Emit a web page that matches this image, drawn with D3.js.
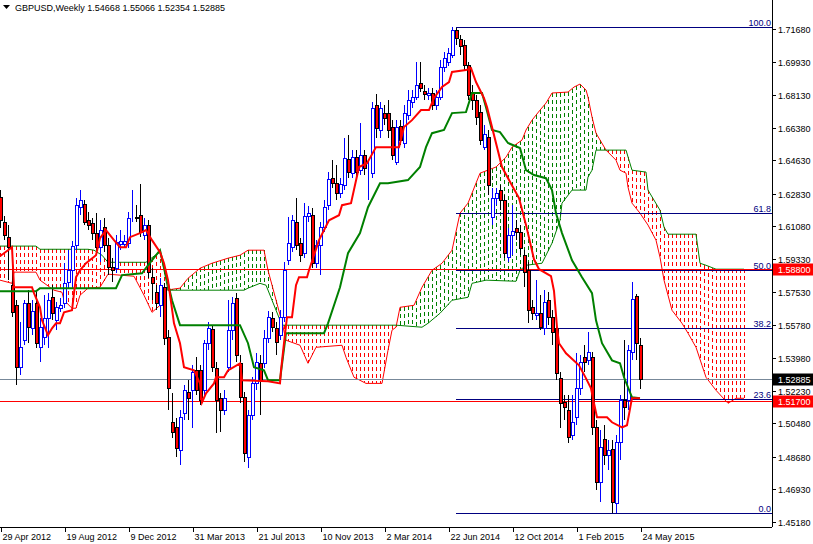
<!DOCTYPE html>
<html>
<head>
<meta charset="utf-8">
<script src="https://cdn.jsdelivr.net/npm/d3@7"></script>
<style>
  body { margin: 0; background: #fff; }
  text { font-family: "Liberation Sans", Arial, sans-serif; }
</style>
</head>
<body>
<svg id="chart" width="813" height="544"></svg>
<script>
// weekly candles, week 0 = 29 Apr 2012
const opens = [1.6264,1.6130,1.6049,1.5791,1.5683,1.5350,1.5495,1.5694,1.5559,1.5694,1.5457,1.5511,1.5613,1.5726,1.5602,1.5667,1.5694,1.5807,1.5871,1.6006,
  1.6210,1.6226,1.6140,1.6124,1.6071,1.5995,1.6103,1.6006,1.5888,1.5882,1.6011,1.6011,1.6017,1.6157,1.6157,1.6167,1.6060,1.6114,1.5834,1.5753,
  1.5683,1.5780,1.5511,1.5054,1.5027,1.4903,1.5102,1.5215,1.5226,1.5333,1.5333,1.5226,1.5479,1.5554,1.5344,1.5183,1.5118,1.5350,1.5549,1.5721,
  1.5371,1.5188,1.4865,1.5091,1.5263,1.5371,1.5371,1.5506,1.5613,1.5559,1.5522,1.5619,1.5925,1.5995,1.6130,1.6017,1.5963,1.6162,1.6167,1.5909,
  1.6006,1.6103,1.6221,1.6366,1.6339,1.6286,1.6329,1.6469,1.6393,1.6479,1.6409,1.6490,1.6409,1.6393,1.6759,1.6625,1.6716,1.6716,1.6641,1.6452,
  1.6646,1.6555,1.6705,1.6775,1.6802,1.6878,1.6834,1.6813,1.6824,1.6759,1.6802,1.6964,1.6990,1.7028,1.7163,1.7114,1.7082,1.6974,1.6829,1.6786,
  1.6722,1.6533,1.6587,1.6157,1.6259,1.6302,1.6248,1.5941,1.6060,1.6097,1.6076,1.5952,1.5871,1.5672,1.5629,1.5640,1.5559,1.5710,1.5619,1.5559,
  1.5290,1.5161,1.5118,1.4984,1.5081,1.5237,1.5403,1.5387,1.5403,1.5027,1.4731,1.4962,1.4876,1.4908,1.4618,1.4946,1.5172,1.5172,1.5430,1.5732,1.54668];
const closes = [1.6140,1.6060,1.5995,1.5645,1.5350,1.5457,1.5694,1.5565,1.5651,1.5479,1.5565,1.5613,1.5710,1.5640,1.5672,1.5683,1.5801,1.5871,1.6001,1.6221,
  1.6248,1.6130,1.6114,1.6071,1.5995,1.6087,1.6006,1.5888,1.5871,1.6022,1.6028,1.6028,1.6151,1.6157,1.6151,1.6076,1.6114,1.5861,1.5802,1.5694,
  1.5791,1.5506,1.5237,1.5000,1.4914,1.5081,1.5226,1.5183,1.5323,1.5226,1.5172,1.5479,1.5559,1.5350,1.5172,1.5118,1.5183,1.5549,1.5694,1.5414,
  1.5188,1.4887,1.5091,1.5263,1.5376,1.5280,1.5506,1.5619,1.5565,1.5484,1.5619,1.5871,1.6017,1.6140,1.6006,1.5952,1.6162,1.6178,1.5909,1.6006,
  1.6103,1.6210,1.6361,1.6339,1.6286,1.6334,1.6474,1.6399,1.6479,1.6399,1.6490,1.6420,1.6409,1.6743,1.6635,1.6743,1.6689,1.6625,1.6490,1.6641,
  1.6571,1.6716,1.6786,1.6802,1.6867,1.6851,1.6818,1.6824,1.6759,1.6802,1.6964,1.7012,1.7039,1.7163,1.7120,1.7077,1.6974,1.6813,1.6786,1.6695,
  1.6571,1.6603,1.6329,1.6259,1.6286,1.6248,1.5963,1.6060,1.6081,1.6076,1.5990,1.5861,1.5656,1.5640,1.5640,1.5565,1.5699,1.5619,1.5538,1.5317,
  1.5156,1.5134,1.4973,1.5054,1.5237,1.5376,1.5376,1.5430,1.5027,1.4731,1.4919,1.4876,1.4903,1.4623,1.4946,1.5172,1.5134,1.5441,1.5716,1.5479,1.52885];
const highs = [1.6302,1.6162,1.6114,1.5914,1.5710,1.5592,1.5710,1.5764,1.5710,1.5764,1.5613,1.5737,1.5748,1.5791,1.5699,1.5721,1.5909,1.5979,1.6028,1.6259,
  1.6302,1.6248,1.6183,1.6151,1.6178,1.6140,1.6151,1.6044,1.5936,1.6060,1.6087,1.6060,1.6183,1.6302,1.6221,1.6334,1.6151,1.6140,1.5882,1.5791,
  1.5828,1.5801,1.5549,1.5210,1.5075,1.5118,1.5253,1.5280,1.5360,1.5403,1.5360,1.5495,1.5592,1.5576,1.5376,1.5210,1.5226,1.5710,1.5726,1.5748,
  1.5414,1.5215,1.5118,1.5296,1.5425,1.5414,1.5549,1.5651,1.5645,1.5592,1.5656,1.5914,1.6157,1.6167,1.6259,1.6044,1.6232,1.6216,1.6205,1.6033,
  1.6130,1.6248,1.6399,1.6463,1.6436,1.6366,1.6582,1.6598,1.6517,1.6517,1.6662,1.6517,1.6463,1.6775,1.6818,1.6775,1.6759,1.6786,1.6678,1.6678,
  1.6678,1.6759,1.6840,1.6840,1.6990,1.6990,1.6867,1.6851,1.6851,1.6840,1.7001,1.7044,1.7066,1.7179,1.7173,1.7136,1.7109,1.6990,1.6867,1.6813,
  1.6759,1.6652,1.6625,1.6313,1.6313,1.6329,1.6275,1.6097,1.6221,1.6140,1.6114,1.5979,1.5914,1.5710,1.5818,1.5737,1.5764,1.5753,1.5656,1.5592,
  1.5323,1.5199,1.5199,1.5199,1.5425,1.5414,1.5468,1.5538,1.5430,1.5064,1.5011,1.5038,1.4957,1.4957,1.4984,1.5199,1.5495,1.5468,1.5807,1.5742,1.55066];
const lows = [1.6097,1.6033,1.5818,1.5619,1.5253,1.5307,1.5468,1.5479,1.5522,1.5452,1.5376,1.5468,1.5452,1.5602,1.5549,1.5645,1.5667,1.5775,1.5780,1.5979,
  1.6167,1.6114,1.6087,1.6033,1.5968,1.5914,1.5968,1.5845,1.5807,1.5855,1.5979,1.5995,1.5990,1.6130,1.6130,1.6049,1.6033,1.5828,1.5710,1.5656,
  1.5619,1.5468,1.5118,1.4968,1.4865,1.4822,1.5064,1.5064,1.5021,1.5199,1.5145,1.5199,1.5441,1.5323,1.4994,1.5000,1.5091,1.5323,1.5495,1.5376,
  1.5156,1.4838,1.4806,1.5064,1.5226,1.5091,1.5344,1.5479,1.5538,1.5414,1.5495,1.5592,1.5898,1.5968,1.5979,1.5914,1.5936,1.6130,1.5882,1.5882,
  1.5845,1.6076,1.6194,1.6313,1.6248,1.6259,1.6302,1.6366,1.6366,1.6366,1.6383,1.6383,1.6248,1.6366,1.6582,1.6582,1.6652,1.6582,1.6463,1.6436,
  1.6544,1.6528,1.6678,1.6743,1.6786,1.6829,1.6786,1.6786,1.6732,1.6732,1.6786,1.6937,1.6969,1.7012,1.7082,1.7028,1.6947,1.6786,1.6732,1.6652,
  1.6544,1.6517,1.6275,1.6114,1.6221,1.6194,1.5936,1.5914,1.5952,1.6033,1.5952,1.5780,1.5586,1.5602,1.5602,1.5549,1.5522,1.5576,1.5468,1.5280,
  1.5021,1.5064,1.4941,1.4957,1.5038,1.5199,1.5323,1.5360,1.4984,1.4688,1.4623,1.4822,1.4795,1.4569,1.4564,1.4849,1.5064,1.5118,1.5387,1.5387,1.52354];

// ichimoku lines as [week, price] vertices
const tenkan = [[0,1.5947],[2,1.5979],[3,1.5995],[3.5,1.5780],[8,1.5780],[8.5,1.5748],[10,1.5672],[10.5,1.5602],[12,1.5522],[13,1.5559],[14,1.5586],[15,1.5586],
  [16,1.5645],[18,1.5656],[18.5,1.5748],[19,1.5834],[20,1.5871],[21.5,1.5909],[24,1.5952],[25,1.6044],[26.5,1.6087],[28.5,1.6033],[30,1.5995],[31.5,1.5995],
  [32.5,1.6049],[35,1.6071],[36.5,1.6087],[38,1.6033],[40,1.5968],[41,1.5909],[42,1.5818],[43.5,1.5586],[45,1.5479],[46,1.5350],[48.5,1.5333],[50,1.5263],
  [50.5,1.5161],[51.5,1.5210],[53.5,1.5263],[54,1.5296],[56,1.5296],[57,1.5333],[60,1.5371],[60.5,1.5280],[67,1.5274],[70,1.5263],[70.25,1.5333],[71,1.5479],
  [71.75,1.5619],[73,1.5619],[74,1.5791],[74.75,1.5834],[76.75,1.5834],[77.25,1.5871],[79.75,1.6033],[82.25,1.6140],[84.75,1.6167],[85.5,1.6221],[87.75,1.6232],
  [89.75,1.6426],[91.75,1.6447],[94,1.6533],[99.75,1.6533],[101,1.6641],[103,1.6678],[105.25,1.6732],[107.25,1.6732],[108.5,1.6797],[110.5,1.6856],[112.25,1.6883],
  [113,1.6937],[116.5,1.6947],[117.75,1.6958],[119,1.6883],[121,1.6797],[121.75,1.6748],[125.5,1.6426],[127.25,1.6356],[129.75,1.6259],[131.5,1.6115],[133.5,1.5930],
  [134.75,1.5877],[137.75,1.5840],[138.5,1.5760],[139.25,1.5565],[139.75,1.5479],[141.5,1.5425],[144.75,1.5360],[146.5,1.5290],[147.75,1.5237],[148.5,1.5156],
  [149.25,1.5081],[151.75,1.5081],[153,1.5054],[155.5,1.5027],[156.75,1.5038],[157.75,1.5156],[158,1.5183],[160,1.5183]];
const kijun = [[0,1.5758],[9,1.5758],[10,1.5775],[29,1.5775],[30.5,1.5845],[35.5,1.5855],[37,1.5898],[40,1.5979],[43,1.5710],[45,1.5576],[60,1.5576],[62,1.5479],
  [63.5,1.5350],[66,1.5333],[67,1.5280],[70,1.5280],[71.5,1.5533],[81,1.5533],[82,1.5586],[85,1.5780],[87,1.5963],[90,1.6071],[92,1.6210],[95,1.6339],[97,1.6339],
  [102,1.6356],[105,1.6426],[106.5,1.6533],[108,1.6608],[111,1.6625],[113,1.6716],[116.5,1.6721],[118,1.6824],[120.5,1.6824],[121.5,1.6748],[123,1.6625],[125,1.6614],
  [127,1.6555],[130,1.6528],[131.5,1.6409],[133.5,1.6383],[136.5,1.6366],[138,1.6302],[139,1.6178],[140.5,1.6071],[143,1.5925],[145.5,1.5834],[148,1.5748],
  [149,1.5602],[150.5,1.5479],[153,1.5387],[155,1.5371],[156,1.5296],[158,1.5188],[160,1.5183]];
const spanA = [[0,1.5818],[3,1.5801],[3.5,1.5861],[9,1.5861],[10,1.5818],[13.5,1.5764],[15.5,1.5753],[16,1.5710],[18,1.5667],[19,1.5667],[20,1.5737],[22,1.5775],
  [25,1.5780],[27,1.5850],[33.5,1.5839],[36,1.5737],[38,1.5645],[40,1.5683],[41.5,1.5764],[45,1.5775],[47,1.5828],[50,1.5882],[53,1.5909],[57,1.5936],[60,1.5952],
  [62,1.5979],[66,1.5979],[67,1.5871],[70.5,1.5592],[71.5,1.5495],[75,1.5468],[77,1.5371],[79,1.5457],[85.5,1.5468],[86.5,1.5403],[88.5,1.5296],[91.5,1.5263],
  [95.5,1.5263],[97,1.5441],[98,1.5549],[99,1.5565],[100,1.5672],[103.5,1.5683],[105.5,1.5780],[108,1.5871],[110.5,1.5909],[113,1.5979],[115,1.6178],[117,1.6232],
  [120,1.6393],[124,1.6426],[126.5,1.6479],[128,1.6533],[130.5,1.6571],[131.5,1.6625],[133,1.6678],[135,1.6732],[136.5,1.6770],[138,1.6824],[142,1.6829],
  [143.5,1.6856],[145,1.6872],[146.5,1.6840],[147,1.6802],[148,1.6695],[149,1.6608],[151.5,1.6517],[154,1.6463],[155,1.6409],[156.5,1.6393],[157,1.6318],
  [158,1.6232],[160,1.6178],[162,1.6114],[164,1.6033],[165,1.5941],[166,1.5818],[168,1.5656],[170.5,1.5586],[172,1.5533],[174,1.5457],[175.5,1.5360],
  [176.5,1.5296],[179,1.5226],[182,1.5156],[184,1.5183],[186,1.5183]];
const spanB = [[0,1.6001],[9,1.6001],[10,1.5984],[22,1.5984],[23.5,1.5979],[25.5,1.5952],[27,1.5914],[36.5,1.5914],[38.5,1.5947],[40,1.5968],[41,1.5871],[42,1.5764],
  [61,1.5764],[62,1.5775],[65,1.5801],[66.5,1.5791],[70.5,1.5576],[99,1.5576],[105.5,1.5565],[107,1.5586],[110,1.5640],[113,1.5710],[117,1.5726],[118,1.5801],
  [121.5,1.5818],[129,1.5812],[130,1.5871],[131.5,1.5898],[135.5,1.5909],[138,1.6017],[140,1.6140],[140.5,1.6232],[143,1.6302],[146.5,1.6302],[147,1.6372],
  [148,1.6409],[149,1.6517],[156.5,1.6517],[158,1.6409],[161.5,1.6399],[162,1.6302],[165,1.6194],[166,1.6103],[167,1.6065],[174,1.6065],[175,1.5909],
  [176.5,1.5898],[179,1.5877],[186,1.5877]];

const priceTicks = [1.71680,1.69930,1.68130,1.66380,1.64630,1.62830,1.61080,1.59330,1.57530,1.55780,1.53980,1.52230,1.50480,1.48680,1.46930,1.45180];
const dateLabels = ["29 Apr 2012","19 Aug 2012","9 Dec 2012","31 Mar 2013","21 Jul 2013","10 Nov 2013","2 Mar 2014","22 Jun 2014","12 Oct 2014","1 Feb 2015","24 May 2015"];
const fibLevels = [100.0, 61.8, 50.0, 38.2, 23.6, 0.0];
const fibHigh = 1.7177, fibLow = 1.4564, fibStart = 114;
const redLevels = [1.58800, 1.51700];
const bid = 1.52885;

const svg = d3.select("#chart");
const W = 772, H = 527;
const x = d3.scaleLinear().domain([0, 160]).range([0, 640]);
const y = d3.scaleLinear().domain([1.45180, 1.71680]).range([522, 29]);

function at(pts, i) {
  for (let k = 1; k < pts.length; k++) {
    if (i <= pts[k][0]) {
      const [i0, p0] = pts[k-1], [i1, p1] = pts[k];
      return i1 === i0 ? p1 : p0 + (p1 - p0) * (i - i0) / (i1 - i0);
    }
  }
  return pts[pts.length-1][1];
}

const g = svg.append("g");

// kumo hatch: short dashes between span A and span B at each week
const dashes = [];
for (let i = 0; i <= 186; i++) {
  const a = at(spanA, i), b = at(spanB, i);
  const y0 = Math.round(Math.min(y(a), y(b))), y1 = Math.round(Math.max(y(a), y(b)));
  for (let yy = y0; yy < y1; yy += 7) {
    dashes.push({ px: Math.round(x(i)), py: yy, h: Math.min(4, y1 - yy), c: a >= b ? "#008000" : "#ff0000" });
  }
}
g.selectAll("rect.hatch").data(dashes).join("rect")
  .attr("class", "hatch")
  .attr("x", d => d.px).attr("y", d => d.py).attr("width", 1).attr("height", d => d.h)
  .attr("fill", d => d.c);

const line = d3.line().x(d => x(d[0])).y(d => y(d[1]));
g.append("path").attr("d", line(spanA)).attr("fill", "none").attr("stroke", "#ff0000").attr("stroke-width", 1);
g.append("path").attr("d", line(spanB)).attr("fill", "none").attr("stroke", "#008000").attr("stroke-width", 1);

// horizontal levels
redLevels.forEach(p => g.append("line").attr("x1", 0).attr("x2", W).attr("y1", Math.round(y(p)) + 0.5).attr("y2", Math.round(y(p)) + 0.5).attr("stroke", "#ff0000"));
g.append("line").attr("x1", 0).attr("x2", W).attr("y1", Math.round(y(bid)) + 0.5).attr("y2", Math.round(y(bid)) + 0.5).attr("stroke", "#778899");

// fibonacci
fibLevels.forEach(f => {
  const p = fibLow + (fibHigh - fibLow) * f / 100;
  const yy = Math.round(y(p)) + 0.5;
  g.append("line").attr("x1", x(fibStart)).attr("x2", W).attr("y1", yy).attr("y2", yy).attr("stroke", "#000080");
  g.append("text").attr("x", W - 1).attr("y", yy - 2).attr("text-anchor", "end")
    .attr("font-size", 9).attr("fill", "#000080").text(f.toFixed(1));
});

// candles
closes.forEach((c, i) => {
  const o = opens[i], up = c >= o;
  const cx = Math.round(x(i)) + 0.5;
  g.append("line").attr("x1", cx).attr("x2", cx).attr("y1", Math.round(y(highs[i]))).attr("y2", Math.round(y(lows[i])))
    .attr("stroke", up ? "#0000ff" : "#000000");
  const top = Math.round(y(Math.max(o, c))) + 0.5, bot = Math.round(y(Math.min(o, c))) + 0.5;
  g.append("rect").attr("x", cx - 1).attr("y", top).attr("width", 3).attr("height", Math.max(bot - top, 0))
    .attr("fill", up ? "#ffffff" : "#ff0000").attr("stroke", up ? "#0000ff" : "#000000").attr("stroke-width", 1);
});

// tenkan / kijun
g.append("path").attr("d", line(kijun)).attr("fill", "none").attr("stroke", "#008000").attr("stroke-width", 2);
g.append("path").attr("d", line(tenkan)).attr("fill", "none").attr("stroke", "#ff0000").attr("stroke-width", 2);

// frame and axes
svg.append("rect").attr("x", 0).attr("y", H).attr("width", 813).attr("height", 544 - H).attr("fill", "#fff");
svg.append("rect").attr("x", W).attr("y", 0).attr("width", 813 - W).attr("height", 544).attr("fill", "#fff");
svg.append("line").attr("x1", W + 0.5).attr("x2", W + 0.5).attr("y1", 0).attr("y2", H).attr("stroke", "#000");
svg.append("line").attr("x1", 0).attr("x2", W).attr("y1", H + 0.5).attr("y2", H + 0.5).attr("stroke", "#000");

priceTicks.forEach(p => {
  const yy = Math.round(y(p)) + 0.5;
  svg.append("line").attr("x1", W).attr("x2", W + 4).attr("y1", yy).attr("y2", yy).attr("stroke", "#000");
  svg.append("text").attr("x", W + 6).attr("y", yy + 3.5).attr("font-size", 9).attr("fill", "#000").text(p.toFixed(5));
});

function priceBox(p, fill) {
  const yy = Math.round(y(p)) + 0.5;
  svg.append("rect").attr("x", W + 1).attr("y", yy - 6).attr("width", 40).attr("height", 12).attr("fill", fill);
  svg.append("text").attr("x", W + 6).attr("y", yy + 3.5).attr("font-size", 9).attr("fill", "#fff").text(p.toFixed(5));
}
redLevels.forEach(p => priceBox(p, "#ff0000"));
priceBox(bid, "#000000");

dateLabels.forEach((d, k) => {
  const xx = Math.round(x(k * 16)) + 1.5;
  svg.append("line").attr("x1", xx).attr("x2", xx).attr("y1", H).attr("y2", H + 5).attr("stroke", "#000");
  svg.append("text").attr("x", xx + 1).attr("y", 540).attr("font-size", 9).attr("fill", "#000").text(d);
});

// header
svg.append("path").attr("d", "M3,5 L10,5 L6.5,9 Z").attr("fill", "#000");
svg.append("text").attr("x", 15).attr("y", 11).attr("font-size", 9).attr("fill", "#000")
  .text("GBPUSD,Weekly  1.54668 1.55066 1.52354 1.52885");
</script>
</body>
</html>
